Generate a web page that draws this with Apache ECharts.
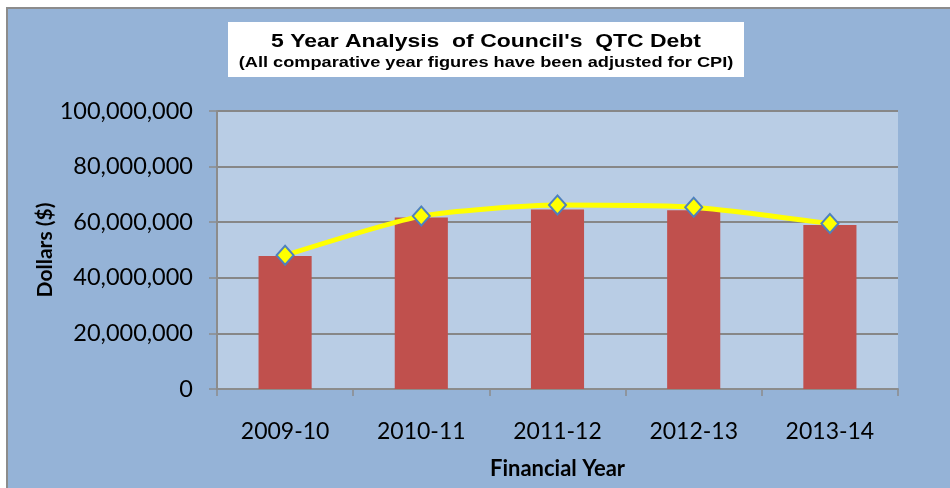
<!DOCTYPE html>
<html>
<head>
<meta charset="utf-8">
<script src="https://cdn.jsdelivr.net/npm/echarts@6/dist/echarts.min.js"></script>
<style>html,body{margin:0;padding:0;background:#fff;}#c{width:950px;height:488px;}</style>
</head>
<body>
<div id="c"></div>
<script>
const categories = ['2009-10', '2010-11', '2011-12', '2012-13', '2013-14'];
const barValues = [47800000, 61700000, 64600000, 64300000, 59000000];
const lineValues = [48100000, 62200000, 66200000, 65400000, 59500000];
const yTicks = [0, 20000000, 40000000, 60000000, 80000000, 100000000];
const titleText = "5 Year Analysis  of Council's  QTC Debt";
const subtitleText = "(All comparative year figures have been adjusted for CPI)";

const chart = echarts.init(document.getElementById('c'), null, {renderer: 'canvas'});
const fmt = v => v.toLocaleString('en-US');
chart.setOption({
  animation: false,
  backgroundColor: '#ffffff',
  graphic: [
    {type: 'rect', z: -10, shape: {x: 7, y: 8, width: 960, height: 500},
     style: {fill: '#95B3D7', stroke: '#8c8c8c', lineWidth: 2}},
    {type: 'rect', z: 10, shape: {x: 228, y: 22, width: 516, height: 55},
     style: {fill: '#ffffff'}},
    {type: 'text', z: 11, x: 486, y: 42, scaleX: 1.24, originX: 0, originY: 0,
     style: {text: titleText, fill: '#000', align: 'center', verticalAlign: 'middle',
             font: 'bold 18.5px "Liberation Sans", Arial'}},
    {type: 'text', z: 11, x: 486, y: 63, scaleX: 1.3, originX: 0, originY: 0,
     style: {text: subtitleText, fill: '#000', align: 'center', verticalAlign: 'middle',
             font: 'bold 14px "Liberation Sans", Arial'}}
  ],
  grid: {left: 217, right: 52, top: 111, bottom: 99, show: true, backgroundColor: '#B9CDE5', borderWidth: 0},
  xAxis: {
    type: 'category',
    data: categories,
    name: 'Financial Year',
    nameLocation: 'middle',
    nameGap: 69,
    nameTextStyle: {fontFamily: 'Lato, Open Sans', fontWeight: 'bold', fontSize: 22, color: '#000'},
    axisLine: {lineStyle: {color: '#8c8c8c', width: 2}},
    axisTick: {show: true, length: 7, lineStyle: {color: '#8c8c8c', width: 1.5}},
    axisLabel: {margin: 31, fontFamily: 'Lato, Open Sans', fontSize: 23, color: '#000'}
  },
  yAxis: {
    type: 'value',
    min: 0, max: 100000000, interval: 20000000,
    name: 'Dollars ($)',
    nameLocation: 'middle',
    nameGap: 161,
    nameMoveOverlap: false,
    nameTextStyle: {fontFamily: 'Lato, Open Sans', fontWeight: 'bold', fontSize: 21, color: '#000'},
    axisLine: {show: true, lineStyle: {color: '#8c8c8c', width: 2}},
    axisTick: {show: true, length: 8, lineStyle: {color: '#8c8c8c', width: 1.5}},
    splitLine: {show: true, lineStyle: {color: '#878787', width: 2}},
    axisLabel: {margin: 24, fontFamily: 'Lato, Open Sans', fontSize: 23.5, color: '#000',
      formatter: v => yTicks.includes(v) ? fmt(v) : ''}
  },
  series: [
    {type: 'bar', data: barValues, barWidth: '39%',
     itemStyle: {color: '#C0504D'}, z: 2},
    {type: 'line', data: lineValues, smooth: 0.2,
     lineStyle: {color: '#FFFF00', width: 5},
     symbol: 'diamond', symbolSize: [17, 19],
     itemStyle: {color: '#FFFF00', borderColor: '#4F81BD', borderWidth: 2},
     z: 3}
  ]
});
</script>
</body>
</html>
